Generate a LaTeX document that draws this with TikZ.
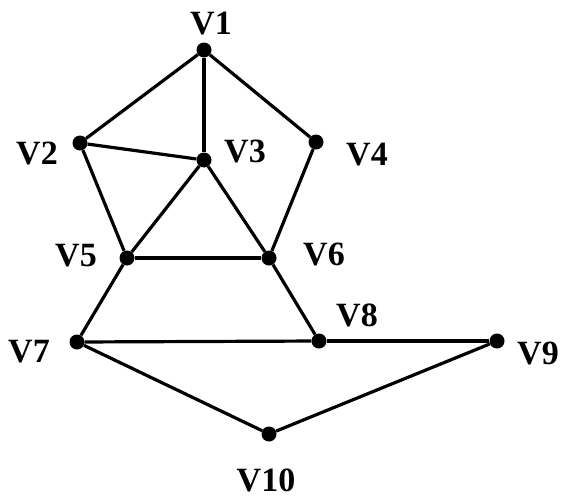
\documentclass[tikz,border=0pt]{standalone}
\usepackage{fontspec}
\setmainfont{Liberation Serif}
\begin{document}
\begin{tikzpicture}[x=1pt,y=-1pt,
  vtx/.style={circle,fill=black,inner sep=0pt,minimum size=15pt},
  lbl/.style={font=\fontsize{34}{36}\selectfont\bfseries,inner sep=0pt},
  edge/.style={line width=3.2pt}]
\useasboundingbox (0,0) rectangle (561,498);
\node[vtx] (v1) at (204,50) {};
\node[vtx] (v2) at (80,143) {};
\node[vtx] (v3) at (204,160) {};
\node[vtx] (v4) at (316,142) {};
\node[vtx] (v5) at (127,258) {};
\node[vtx] (v6) at (269,258) {};
\node[vtx] (v7) at (77,342) {};
\node[vtx] (v8) at (319,341) {};
\node[vtx] (v9) at (497,341) {};
\node[vtx] (v10) at (269,434) {};
\node[lbl] (l1) at (211,24) {V1};
\node[lbl] (l2) at (37,153) {V2};
\node[lbl] (l3) at (245,151) {V3};
\node[lbl] (l4) at (367,155) {V4};
\node[lbl] (l5) at (76,256) {V5};
\node[lbl] (l6) at (324,254) {V6};
\node[lbl] (l7) at (29,352) {V7};
\node[lbl] (l8) at (357,315) {V8};
\node[lbl] (l9) at (538,353) {V9};
\node[lbl] (l10) at (266,480) {V10};
\draw[edge] (v1) -- (v2);
\draw[edge] (v1) -- (v3);
\draw[edge] (v1) -- (v4);
\draw[edge] (v2) -- (v3);
\draw[edge] (v2) -- (v5);
\draw[edge] (v3) -- (v5);
\draw[edge] (v3) -- (v6);
\draw[edge] (v4) -- (v6);
\draw[edge] (v5) -- (v6);
\draw[edge] (v5) -- (v7);
\draw[edge] (v6) -- (v8);
\draw[edge] (v7) -- (v8);
\draw[edge] (v8) -- (v9);
\draw[edge] (v7) -- (v10);
\draw[edge] (v9) -- (v10);
\end{tikzpicture}
\end{document}
